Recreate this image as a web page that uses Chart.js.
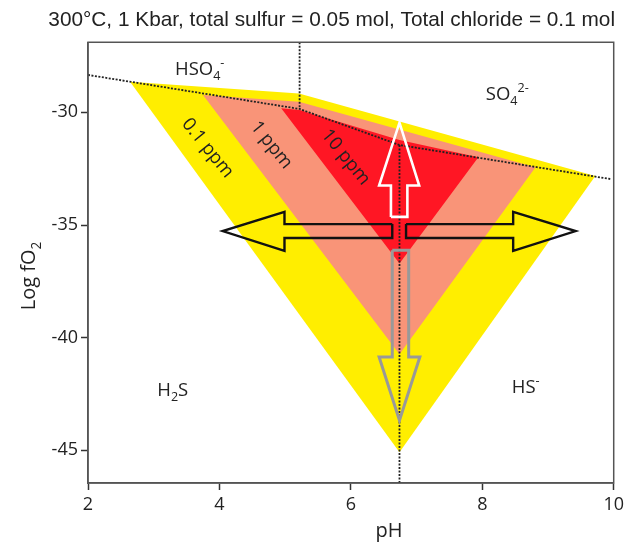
<!DOCTYPE html>
<html><head><meta charset="utf-8">
<script src="https://cdn.jsdelivr.net/npm/chart.js@4/dist/chart.umd.min.js"></script>
<style>html,body{margin:0;padding:0;background:#fff}canvas{display:block}</style>
</head><body>
<canvas id="c" width="628" height="544"></canvas>
<script>
const titleText = '300°C, 1 Kbar, total sulfur = 0.05 mol, Total chloride = 0.1 mol';
const xTicks = [2, 4, 6, 8, 10];
const yTicks = [-45, -40, -35, -30];

// 0.1 ppm field (yellow)
const ppm01PH     = [2.64, 5.21, 9.72, 6.74];
const ppm01LogfO2 = [-28.64, -29.16, -32.82, -45.08];
// 1 ppm field (salmon)
const ppm1PH      = [3.75, 5.21, 8.81, 6.74];
const ppm1LogfO2  = [-29.23, -29.53, -32.44, -40.74];
// 10 ppm field (red)
const ppm10PH     = [4.94, 5.22, 6.74, 7.94, 6.74];
const ppm10LogfO2 = [-29.82, -29.90, -31.23, -31.99, -36.71];

// sulfate / sulfide boundary (dotted)
const boundaryPH     = [2.00, 5.22, 6.74, 9.95];
const boundaryLogfO2 = [-28.34, -29.85, -31.45, -32.96];
// HSO4- / SO4 2- boundary (dotted, vertical)
const hso4PH     = [5.22, 5.22];
const hso4LogfO2 = [-26.89, -29.85];
// H2S / HS- boundary (dotted, vertical)
const h2sPH     = [6.74, 6.74];
const h2sLogfO2 = [-31.45, -46.45];

// arrows (outlines)
const leftArrowPH      = [6.63, 4.99, 4.99, 4.05, 4.99, 4.99, 6.63, 6.63];
const leftArrowLogfO2  = [-34.96, -34.96, -34.42, -35.27, -36.15, -35.58, -35.58, -34.96];
const rightArrowPH     = [6.84, 8.47, 8.47, 9.42, 8.47, 8.47, 6.84, 6.84];
const rightArrowLogfO2 = [-34.96, -34.96, -34.42, -35.27, -36.15, -35.58, -35.58, -34.96];
const upArrowPH        = [6.61, 6.61, 6.43, 6.74, 7.04, 6.86, 6.86, 6.61];
const upArrowLogfO2    = [-34.64, -33.25, -33.25, -30.46, -33.25, -33.25, -34.64, -34.64];
const downArrowPH      = [6.63, 6.63, 6.43, 6.74, 7.05, 6.88, 6.88, 6.63];
const downArrowLogfO2  = [-36.12, -40.86, -40.86, -43.67, -40.86, -40.86, -36.12, -36.12];

const pts = (xs, ys) => xs.map((v, i) => ({x: v, y: ys[i]}));

const FONT = "'Open Sans', 'DejaVu Sans', sans-serif";
const INK = '#222';

function chem(ctx, parts, cx, cy, size) {
  const small = size * 0.68;
  let w = 0;
  parts.forEach(p => { ctx.font = (p[1] ? small : size) + 'px ' + FONT; w += ctx.measureText(p[0]).width; });
  let xx = cx - w / 2;
  const base = cy + size * 0.36;
  ctx.textAlign = 'left';
  ctx.textBaseline = 'alphabetic';
  parts.forEach(p => {
    ctx.font = (p[1] ? small : size) + 'px ' + FONT;
    const dy = p[1] === 1 ? size * 0.28 : (p[1] === 2 ? -size * 0.42 : 0);
    ctx.fillText(p[0], xx, base + dy);
    xx += ctx.measureText(p[0]).width;
  });
}

const decor = {
  id: 'decor',
  afterDatasetsDraw(chart) {
    const {ctx, chartArea: a, scales: {x, y}} = chart;
    ctx.save();
    ctx.strokeStyle = '#555';
    ctx.lineWidth = 1.5;
    ctx.strokeRect(a.left, a.top, a.right - a.left, a.bottom - a.top);

    ctx.fillStyle = INK;
    chem(ctx, [['HSO', 0], ['4', 1], ['-', 2]], x.getPixelForValue(3.70), y.getPixelForValue(-28.03), 18.5);
    chem(ctx, [['SO', 0], ['4', 1], ['2-', 2]], x.getPixelForValue(8.38), y.getPixelForValue(-29.14), 18.5);
    chem(ctx, [['H', 0], ['2', 1], ['S', 0]], x.getPixelForValue(3.29), y.getPixelForValue(-42.29), 18.5);
    chem(ctx, [['HS', 0], ['-', 2]], x.getPixelForValue(8.66), y.getPixelForValue(-42.16), 18.5);

    const rot = [['0.1 ppm', 3.82, -31.59], ['1 ppm', 4.79, -31.45], ['10 ppm', 5.92, -31.99]];
    rot.forEach(r => {
      ctx.save();
      ctx.translate(x.getPixelForValue(r[1]), y.getPixelForValue(r[2]));
      ctx.rotate(0.89);
      ctx.font = '18.5px ' + FONT;
      ctx.textAlign = 'center';
      ctx.textBaseline = 'middle';
      ctx.fillText(r[0], 0, 0);
      ctx.restore();
    });

    // axis titles
    ctx.fillStyle = INK;
    ctx.font = '20px ' + FONT;
    ctx.textAlign = 'center';
    ctx.textBaseline = 'middle';
    ctx.fillText('pH', 389, 531);
    ctx.save();
    ctx.translate(28, 276);
    ctx.rotate(-Math.PI / 2);
    chem(ctx, [['Log fO', 0], ['2', 1]], 0, 0, 20);
    ctx.restore();
    ctx.restore();
  }
};

const lineDs = (label, data, color, width, dash, order) => ({
  label, data, showLine: true, fill: false, borderColor: color, borderWidth: width,
  borderDash: dash, pointRadius: 0, tension: 0, order, borderJoinStyle: 'miter', borderCapStyle: 'butt'
});
const areaDs = (label, data, color, order) => ({
  label, data, showLine: true, fill: 'shape', backgroundColor: color, borderColor: color,
  borderWidth: 0, pointRadius: 0, tension: 0, order
});

new Chart(document.getElementById('c'), {
  type: 'scatter',
  data: {
    datasets: [
      areaDs('0.1 ppm', pts(ppm01PH, ppm01LogfO2), '#FFEE00', 30),
      areaDs('1 ppm', pts(ppm1PH, ppm1LogfO2), '#F99478', 29),
      areaDs('10 ppm', pts(ppm10PH, ppm10LogfO2), '#FF1624', 28),
      lineDs('boundary', pts(boundaryPH, boundaryLogfO2), '#222', 1.8, [2, 1.5], 10),
      lineDs('HSO4-/SO4', pts(hso4PH, hso4LogfO2), '#222', 1.8, [2, 1.5], 10),
      lineDs('H2S/HS-', pts(h2sPH, h2sLogfO2), '#222', 1.8, [2, 1.5], 10),
      lineDs('left', pts(leftArrowPH, leftArrowLogfO2), '#111', 2.4, [], 2),
      lineDs('right', pts(rightArrowPH, rightArrowLogfO2), '#111', 2.4, [], 2),
      lineDs('up', pts(upArrowPH, upArrowLogfO2), '#fff', 2.6, [], 1),
      lineDs('down', pts(downArrowPH, downArrowLogfO2), '#999', 3, [], 1)
    ]
  },
  options: {
    responsive: false,
    animation: false,
    devicePixelRatio: 1,
    layout: {padding: {left: 0, right: 13, top: 0, bottom: 0}},
    plugins: {
      legend: {display: false},
      tooltip: {enabled: false},
      title: {
        display: true, text: titleText, align: 'end', color: INK,
        font: {family: "'Liberation Sans', Arial, sans-serif", size: 20.8, weight: 'normal', lineHeight: 1.2},
        padding: {top: 8, bottom: 9.3}
      }
    },
    scales: {
      x: {
        type: 'linear', min: 2, max: 10,
        afterBuildTicks: s => { s.ticks = xTicks.map(v => ({value: v})); },
        afterFit: s => { s.height = 61; },
        border: {display: true, color: '#555', width: 1.5},
        grid: {drawOnChartArea: false, drawTicks: true, tickLength: 7, tickColor: '#333', tickWidth: 1.5},
        ticks: {color: INK, font: {family: FONT, size: 18}, padding: 4, maxRotation: 0}
      },
      y: {
        type: 'linear', min: -46.45, max: -26.89,
        afterBuildTicks: s => { s.ticks = yTicks.map(v => ({value: v})); },
        afterFit: s => { s.width = 88; },
        border: {display: true, color: '#555', width: 1.5},
        grid: {drawOnChartArea: false, drawTicks: true, tickLength: 7, tickColor: '#333', tickWidth: 1.5},
        ticks: {color: INK, font: {family: FONT, size: 18}, padding: 3}
      }
    }
  },
  plugins: [decor]
});
</script>
</body></html>
